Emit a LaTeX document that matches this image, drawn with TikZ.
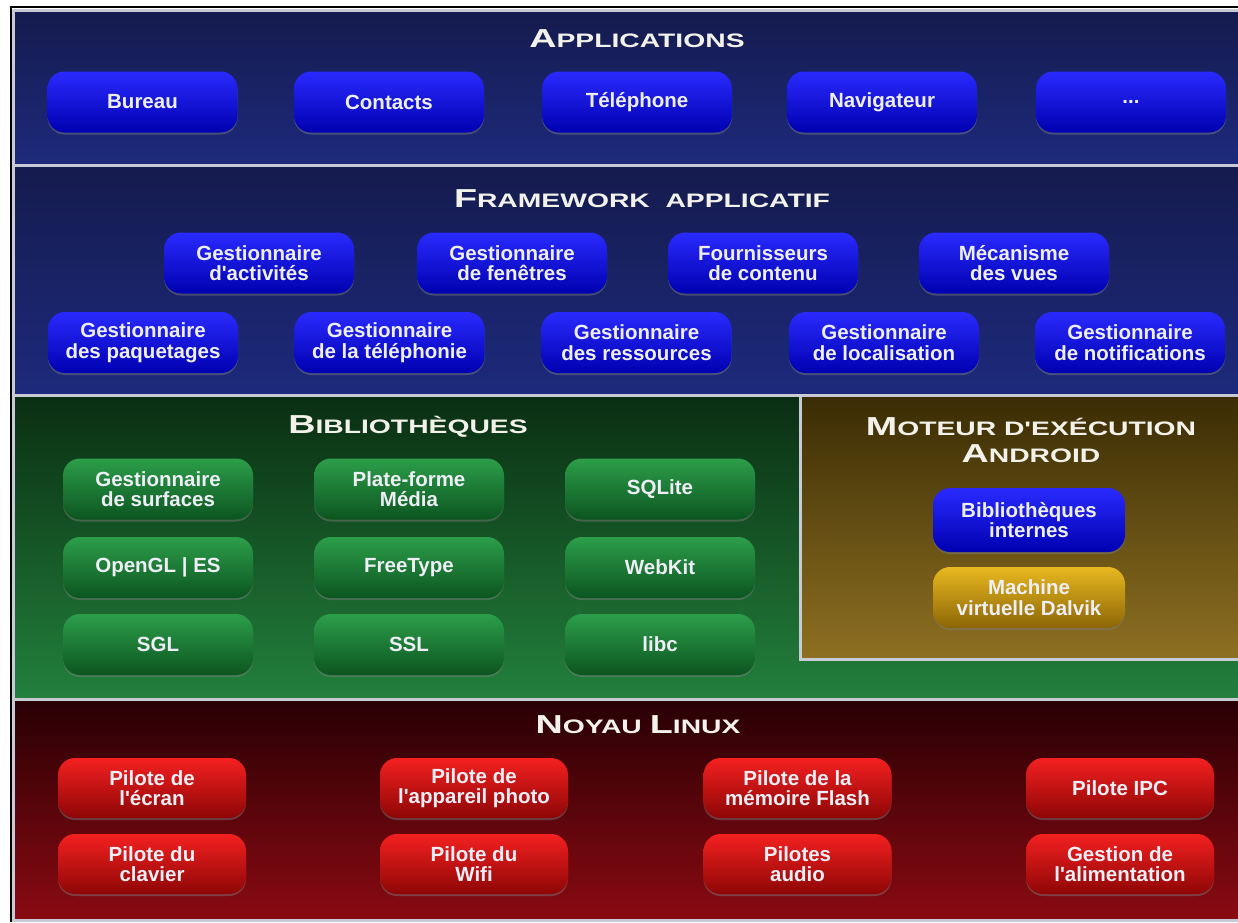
\documentclass[tikz,border=0pt]{standalone}
\usepackage{fontspec}
\setmainfont{Liberation Sans}[Ligatures=TeXOff]
\newfontfamily\titrefont{Liberation Sans}[Ligatures=TeXOff,FakeStretch=1.45]
\usetikzlibrary{shadows}

\definecolor{texte}{HTML}{EEEEF6}
\definecolor{textetitre}{HTML}{F2F2EA}
\definecolor{filet}{HTML}{C8CAD6}
\definecolor{fondbleuh}{HTML}{151B4E}
\definecolor{fondbleub}{HTML}{1D2A7C}
\definecolor{fondverth}{HTML}{0A2E12}
\definecolor{fondvertb}{HTML}{22803C}
\definecolor{fondbrunh}{HTML}{3A2C04}
\definecolor{fondbrunb}{HTML}{8E7022}
\definecolor{fondrougeh}{HTML}{280004}
\definecolor{fondrougeb}{HTML}{8A0A12}
\definecolor{bleuh}{HTML}{2A2AFF}
\definecolor{bleum}{HTML}{0606EE}
\definecolor{bleub}{HTML}{0000B0}
\definecolor{verth}{HTML}{2C9E4A}
\definecolor{vertm}{HTML}{17803A}
\definecolor{vertb}{HTML}{0C5520}
\definecolor{jauneh}{HTML}{E8B820}
\definecolor{jaunem}{HTML}{D0A010}
\definecolor{jauneb}{HTML}{8C6606}
\definecolor{rougeh}{HTML}{F42020}
\definecolor{rougem}{HTML}{D81010}
\definecolor{rougeb}{HTML}{8E0606}

\newcommand{\couche}[2]{{\fontsize{26}{26}\selectfont #1}{\fontsize{19.5}{19.5}\selectfont #2}}

\begin{document}
\begin{tikzpicture}[x=1pt,y=-1pt,
                    bloc/.style={rounded corners=17pt,minimum width=190pt,minimum height=61pt,
                                 inner sep=0pt,align=center,text=texte,
                                 font=\fontsize{20.5}{20.5}\selectfont\bfseries,
                                 drop shadow={shadow xshift=0pt,shadow yshift=-2pt,opacity=0.45}},
                    bleu/.style={bloc,top color=bleuh,middle color=bleum,bottom color=bleub},
                    vert/.style={bloc,top color=verth,middle color=vertm,bottom color=vertb},
                    jaune/.style={bloc,top color=jauneh,middle color=jaunem,bottom color=jauneb},
                    rouge/.style={bloc,top color=rougeh,middle color=rougem,bottom color=rougeb},
                    titre/.style={anchor=base,align=center,text=textetitre,inner sep=0pt,
                                  font=\titrefont\bfseries},
                    sep/.style={filet,line width=3pt}]
 \useasboundingbox (0,0) rectangle (1238,922);
 \fill[white] (0,0) rectangle (1238,922);
 \draw[black,line width=1.5pt] (11,922) -- (11,7) -- (1238,7);

 \shade[top color=fondbleuh,bottom color=fondbleub] (15,12) rectangle (1238,164);
 \shade[top color=fondbleuh,bottom color=fondbleub] (15,167) rectangle (1238,394);
 \shade[top color=fondverth,bottom color=fondvertb] (15,397) rectangle (1238,698);
 \shade[top color=fondbrunh,bottom color=fondbrunb] (802,397) rectangle (1238,658);
 \shade[top color=fondrougeh,bottom color=fondrougeb] (15,701) rectangle (1238,919);

 \draw[sep] (13.5,922) -- (13.5,10.5) -- (1238,10.5);
 \draw[sep] (13.5,165.5) -- (1238,165.5);
 \draw[sep] (13.5,395.5) -- (1238,395.5);
 \draw[sep] (800.5,397) -- (800.5,659.5) -- (1238,659.5);
 \draw[sep] (13.5,699.5) -- (1238,699.5);
 \draw[sep] (13.5,920.5) -- (1238,920.5);

 \node[titre] (tapp) at (637,47) {\couche{A}{PPLICATIONS}};
 \node[bleu] (bureau)   at (142.5,102) {Bureau};
 \node[bleu] (contacts) at (389,102)   {Contacts};
 \node[bleu] (tel)      at (637,102)   {Téléphone};
 \node[bleu] (nav)      at (882,102)   {Navigateur};
 \node[bleu] (autres)   at (1131,102)  {...};

 \node[titre] (tfw) at (642,207) {\couche{F}{RAMEWORK\ \ APPLICATIF}};
 \node[bleu] (activites)     at (259,263)   {Gestionnaire\\d'activités};
 \node[bleu] (fenetres)      at (512,263)   {Gestionnaire\\de fenêtres};
 \node[bleu] (fournisseurs)  at (763,263)   {Fournisseurs\\de contenu};
 \node[bleu] (vues)          at (1014,263)  {Mécanisme\\des vues};
 \node[bleu] (paquetages)    at (143,342.5) {Gestionnaire\\des paquetages};
 \node[bleu] (telephonie)    at (389.5,342.5) {Gestionnaire\\de la téléphonie};
 \node[bleu] (ressources)    at (636.5,342.5) {Gestionnaire\\des ressources};
 \node[bleu] (localisation)  at (884,342.5) {Gestionnaire\\de localisation};
 \node[bleu] (notifications) at (1130,342.5) {Gestionnaire\\de notifications};

 \node[titre] (tlib) at (408,433) {\couche{B}{IBLIOTHÈQUES}};
 \node[vert] (surfaces) at (158,489)   {Gestionnaire\\de surfaces};
 \node[vert] (media)    at (409,489)   {Plate-forme\\Média};
 \node[vert] (sqlite)   at (660,489)   {SQLite};
 \node[vert] (opengl)   at (158,567.5) {OpenGL | ES};
 \node[vert] (freetype) at (409,567.5) {FreeType};
 \node[vert] (webkit)   at (660,567.5) {WebKit};
 \node[vert] (sgl)      at (158,644.5) {SGL};
 \node[vert] (ssl)      at (409,644.5) {SSL};
 \node[vert] (libc)     at (660,644.5) {libc};

 \node[titre] (trt) at (1031,435) {\couche{M}{OTEUR D'EXÉCUTION}};
 \node[titre] (trt2) at (1031,462) {\couche{A}{NDROID}};
 \node[bleu,minimum width=192pt,minimum height=64pt] (internes) at (1029,520) {Bibliothèques\\internes};
 \node[jaune,minimum width=192pt] (dalvik) at (1029,597.5) {Machine\\virtuelle Dalvik};

 \node[titre] (tnoyau) at (638,733) {\couche{N}{OYAU}\ \ \couche{L}{INUX}};
 \node[rouge,minimum width=188pt,minimum height=60pt] (ecran)   at (152,788)   {Pilote de\\l'écran};
 \node[rouge,minimum width=188pt,minimum height=60pt] (photo)   at (474,788)   {Pilote de\\l'appareil photo};
 \node[rouge,minimum width=188pt,minimum height=60pt] (flash)   at (797.5,788) {Pilote de la\\mémoire Flash};
 \node[rouge,minimum width=188pt,minimum height=60pt] (ipc)     at (1120,788)  {Pilote IPC};
 \node[rouge,minimum width=188pt,minimum height=60pt] (clavier) at (152,864)   {Pilote du\\clavier};
 \node[rouge,minimum width=188pt,minimum height=60pt] (wifi)    at (474,864)   {Pilote du\\Wifi};
 \node[rouge,minimum width=188pt,minimum height=60pt] (audio)   at (797.5,864) {Pilotes\\audio};
 \node[rouge,minimum width=188pt,minimum height=60pt] (alim)    at (1120,864)  {Gestion de\\l'alimentation};
\end{tikzpicture}
\end{document}
